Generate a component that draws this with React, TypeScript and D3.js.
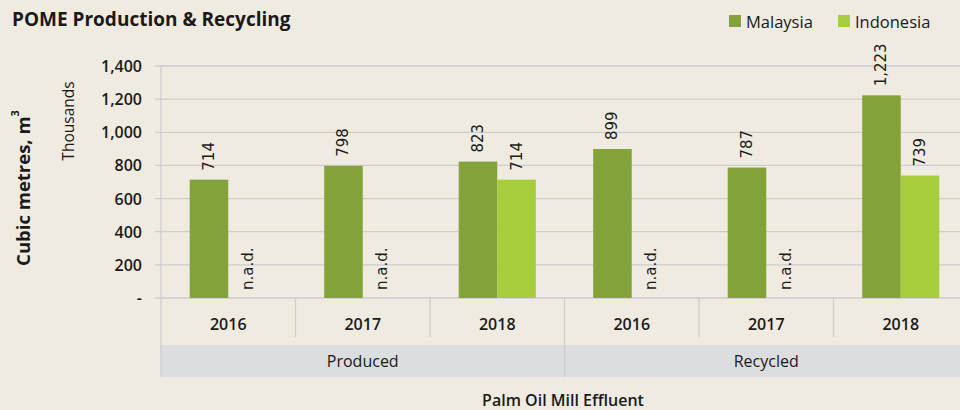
import React, { useEffect, useRef } from 'react';
import * as d3 from 'd3';

const groups = ['Produced', 'Recycled'];
const years = ['2016', '2017', '2018'];
const seriesNames = ['Malaysia', 'Indonesia'];
const malaysia = [714, 798, 823, 899, 787, 1223];
const indonesia: (number | null)[] = [null, null, 714, null, null, 739];
const yTicks = [0, 200, 400, 600, 800, 1000, 1200, 1400];
const colors = ['#84a23a', '#a8cd3c'];

const W = 960;
const H = 410;
const FONT = "'Open Sans', 'Noto Sans', sans-serif";

export default function App() {
    const svgRef = useRef<SVGSVGElement>(null);

    useEffect(() => {
        if (!svgRef.current) return;
        const svg = d3.select(svgRef.current);
        svg.selectAll('*').remove();

        const left = 161;
        const right = 968;
        const top = 66;
        const bottom = 298;

        svg.append('rect').attr('width', W).attr('height', H).attr('fill', '#efebe1');

        const cats = groups.flatMap(g => years.map(y => `${g}|${y}`));
        const x = d3.scaleBand().domain(cats).range([left, right]).padding(0);
        const xs = d3.scaleBand().domain(seriesNames).range([0, x.bandwidth()]).paddingInner(0).paddingOuter(0.745);
        const y = d3.scaleLinear().domain([0, 1400]).range([bottom, top]);

        // gridlines + ticks
        yTicks.forEach(t => {
            svg.append('line')
                .attr('x1', left - 6).attr('x2', right)
                .attr('y1', y(t)).attr('y2', y(t))
                .attr('stroke', '#cdcdcd').attr('stroke-width', 1.3);
            svg.append('text')
                .attr('x', 142).attr('y', y(t))
                .attr('text-anchor', 'end').attr('dominant-baseline', 'central')
                .attr('font-family', FONT).attr('font-size', 16).attr('font-weight', 600)
                .attr('fill', '#1a1a1a')
                .text(t === 0 ? '-' : d3.format(',')(t));
        });

        // group band
        svg.append('rect')
            .attr('x', left).attr('y', 345).attr('width', right - left).attr('height', 32)
            .attr('fill', '#dcdddf');

        // axis line
        svg.append('line')
            .attr('x1', left).attr('x2', left).attr('y1', top).attr('y2', 377)
            .attr('stroke', '#cdcdcd').attr('stroke-width', 1.3);

        // separators
        cats.forEach((c, i) => {
            if (i === 0) return;
            const xx = x(c)!;
            svg.append('line')
                .attr('x1', xx).attr('x2', xx)
                .attr('y1', bottom).attr('y2', i % years.length === 0 ? 377 : 337)
                .attr('stroke', '#cdcdcd').attr('stroke-width', 1.3);
        });

        // year labels
        cats.forEach(c => {
            svg.append('text')
                .attr('x', x(c)! + x.bandwidth() / 2).attr('y', 324)
                .attr('text-anchor', 'middle').attr('dominant-baseline', 'central')
                .attr('font-family', FONT).attr('font-size', 16).attr('font-weight', 600)
                .attr('fill', '#1a1a1a')
                .text(c.split('|')[1]);
        });

        // group labels
        groups.forEach(g => {
            const x0 = x(`${g}|${years[0]}`)!;
            const x1 = x(`${g}|${years[years.length - 1]}`)! + x.bandwidth();
            svg.append('text')
                .attr('x', (x0 + x1) / 2).attr('y', 361)
                .attr('text-anchor', 'middle').attr('dominant-baseline', 'central')
                .attr('font-family', FONT).attr('font-size', 16).attr('font-weight', 500)
                .attr('fill', '#1a1a1a')
                .text(g);
        });

        // bars
        const series = [malaysia, indonesia];
        series.forEach((vals, si) => {
            vals.forEach((v, i) => {
                const bx = x(cats[i])! + xs(seriesNames[si])!;
                const cx = bx + xs.bandwidth() / 2;
                if (v === null) {
                    svg.append('text')
                        .attr('transform', `translate(${cx},${bottom - 8}) rotate(-90)`)
                        .attr('dominant-baseline', 'central')
                        .attr('font-family', 'DejaVu Sans, sans-serif').attr('font-size', 15)
                        .attr('fill', '#1a1a1a')
                        .text('n.a.d.');
                    return;
                }
                svg.append('rect')
                    .attr('x', bx).attr('y', y(v))
                    .attr('width', xs.bandwidth()).attr('height', bottom - y(v))
                    .attr('fill', colors[si]);
                svg.append('text')
                    .attr('transform', `translate(${cx},${y(v) - 9}) rotate(-90)`)
                    .attr('dominant-baseline', 'central')
                    .attr('font-family', 'DejaVu Sans, sans-serif').attr('font-size', 15)
                    .attr('fill', '#1a1a1a')
                    .text(d3.format(',')(v));
            });
        });

        // title
        svg.append('text')
            .attr('x', 12).attr('y', 26)
            .attr('font-family', FONT).attr('font-size', 19).attr('font-weight', 700)
            .attr('fill', '#1a1a1a')
            .text('POME Production & Recycling');

        // legend
        const legX = [729, 838];
        seriesNames.forEach((s, i) => {
            svg.append('rect')
                .attr('x', legX[i]).attr('y', 15).attr('width', 12).attr('height', 12)
                .attr('fill', colors[i]);
            svg.append('text')
                .attr('x', legX[i] + 17).attr('y', 21)
                .attr('dominant-baseline', 'central')
                .attr('font-family', FONT).attr('font-size', 16.5).attr('font-weight', 500)
                .attr('fill', '#1a1a1a')
                .text(s);
        });

        // axis titles
        const yt = svg.append('text')
            .attr('transform', 'translate(22,188) rotate(-90)')
            .attr('text-anchor', 'middle').attr('dominant-baseline', 'central')
            .attr('font-family', FONT).attr('font-size', 18.5).attr('font-weight', 700)
            .attr('fill', '#1a1a1a');
        yt.append('tspan').text('Cubic metres, m');
        yt.append('tspan').attr('baseline-shift', 'super').attr('font-size', 11).text('3');

        svg.append('text')
            .attr('transform', 'translate(68,121) rotate(-90)')
            .attr('text-anchor', 'middle').attr('dominant-baseline', 'central')
            .attr('font-family', FONT).attr('font-size', 15.5).attr('font-weight', 500)
            .attr('fill', '#1a1a1a')
            .text('Thousands');

        svg.append('text')
            .attr('x', 563).attr('y', 400)
            .attr('text-anchor', 'middle').attr('dominant-baseline', 'central')
            .attr('font-family', FONT).attr('font-size', 16).attr('font-weight', 600)
            .attr('fill', '#1a1a1a')
            .text('Palm Oil Mill Effluent');
    }, []);

    return <svg ref={svgRef} width={W} height={H} style={{ position: 'absolute', left: 0, top: 0 }}></svg>;
}
